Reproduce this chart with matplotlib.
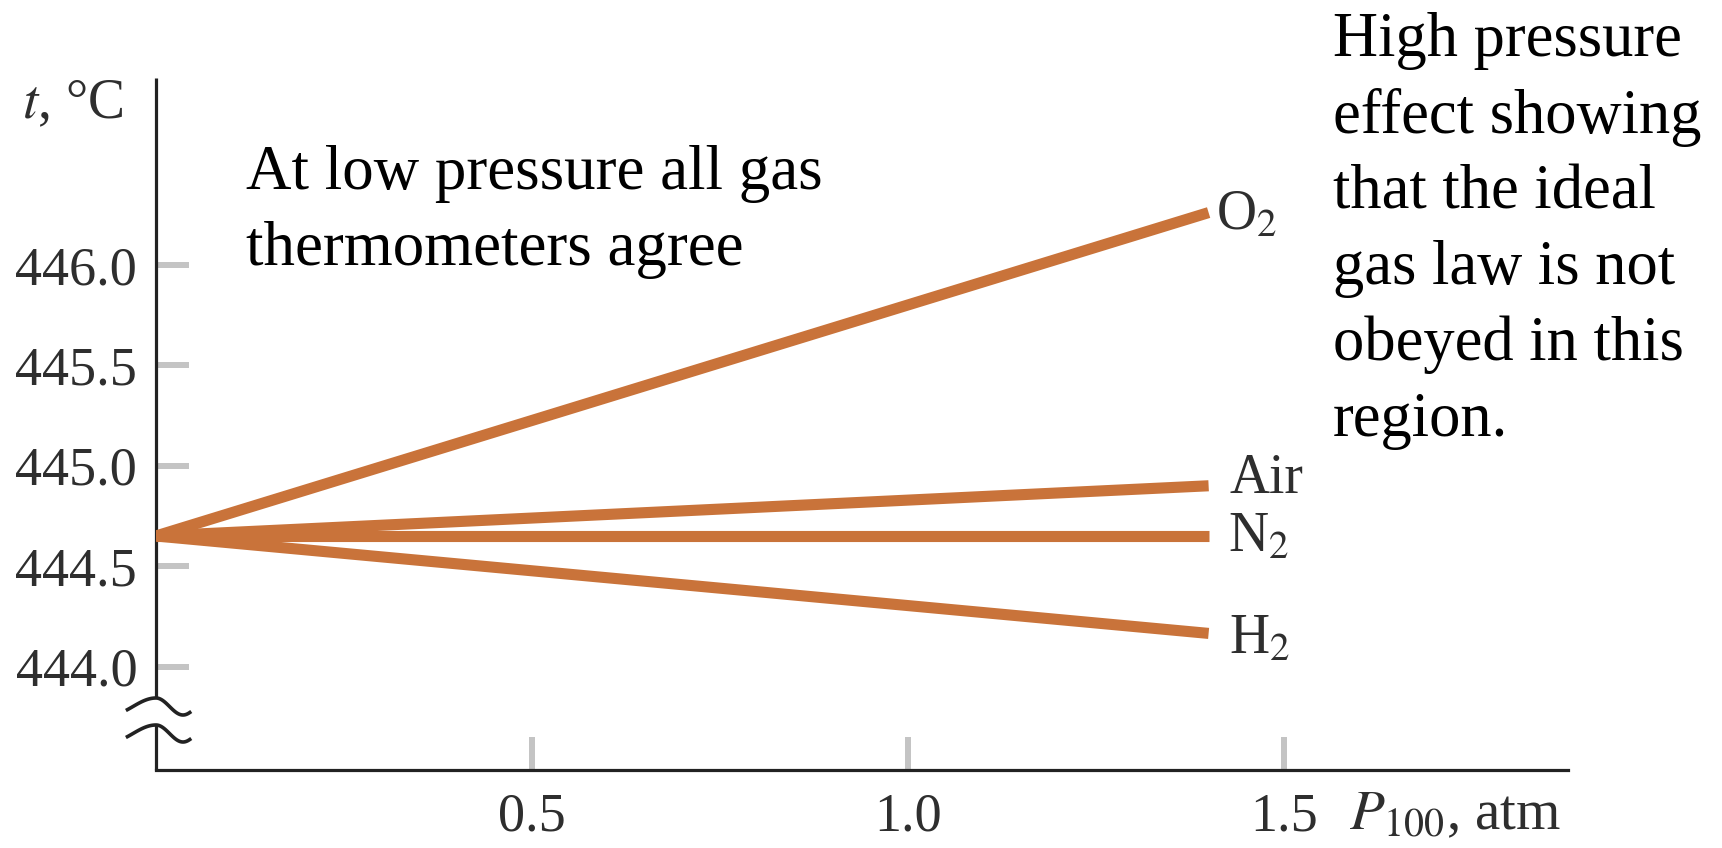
import numpy as np
import matplotlib.pyplot as plt

# Gas thermometer readings t (°C) vs. pressure P_100 of the gas
gases = ["O$_2$", "Air", "N$_2$", "H$_2$"]
p_values = [0.0, 1.4]
t_start = 444.65
t_end = [446.26, 444.90, 444.65, 444.165]

x_ticks = [0.5, 1.0, 1.5]
y_ticks = [444.0, 444.5, 445.0, 445.5, 446.0]

# label offsets (points) from each line end
label_offsets = [(5, -12), (15, -5), (14, -11.5), (15, -14.5)]

LINE_COLOR = "#c9733a"
TICK_COLOR = "#c4c4c4"
TEXT_GREY = "#2e2e2e"
AXIS_COLOR = "#222222"
SERIF = "Liberation Serif"

plt.rcParams["mathtext.fontset"] = "stix"
plt.rcParams["font.family"] = SERIF

fig = plt.figure(figsize=(17.22, 8.48), dpi=100)
ax_w_px, ax_h_px = 1412, 692
ax = fig.add_axes([156 / 1722, 1 - 770 / 848, ax_w_px / 1722, ax_h_px / 848])

for name, end, off in zip(gases, t_end, label_offsets):
    ax.plot(p_values, [t_start, end], color=LINE_COLOR, lw=8.0,
            solid_capstyle="butt", zorder=3)
    ax.annotate(name, (p_values[-1], end), xytext=off,
                textcoords="offset points", va="baseline", ha="left",
                fontsize=40, color=TEXT_GREY)

ax.set_xlim(0, 1.878)
ax.set_ylim(443.485, 446.93)
ax.set_xticks(x_ticks)
ax.set_xticklabels([f"{v:.1f}" for v in x_ticks])
ax.set_yticks(y_ticks)
ax.set_yticklabels([f"{v:.1f}" for v in y_ticks])

for s in ["top", "right", "left"]:
    ax.spines[s].set_visible(False)
ax.spines["bottom"].set_linewidth(2.3)
ax.spines["bottom"].set_color(AXIS_COLOR)

ax.tick_params(direction="in", length=24, width=4.3, color=TICK_COLOR,
               labelsize=39, labelcolor=TEXT_GREY)
ax.tick_params(axis="y", pad=13.5)
ax.tick_params(axis="x", pad=16)

# broken left axis with wavy break marks
lower_mid, upper_mid, amp = 36.5 / ax_h_px, 63.5 / ax_h_px, 8.5 / ax_h_px
ax.plot([0, 0], [0, lower_mid + amp], transform=ax.transAxes,
        color=AXIS_COLOR, lw=2.3, clip_on=False, solid_capstyle="butt")
ax.plot([0, 0], [upper_mid + amp, 1], transform=ax.transAxes,
        color=AXIS_COLOR, lw=2.3, clip_on=False, solid_capstyle="butt")
tt = np.linspace(-0.62, 1.25, 80)
xs = np.where(tt < 0, 46 * tt, 27 * tt) / ax_w_px
for mid in [lower_mid, upper_mid]:
    ax.plot(xs, mid + amp * np.cos(np.pi * tt),
            transform=ax.transAxes, color=AXIS_COLOR, lw=2.6, clip_on=False)

# axis titles
fig.text(22 / 1722, 1 - 118 / 848, "$t$, °C", fontsize=40, color=TEXT_GREY,
         ha="left", va="baseline")
fig.text(1349 / 1722, 1 - 829 / 848, "$P_{100}$, atm", fontsize=41,
         color=TEXT_GREY, ha="left", va="baseline")

fig.text(246 / 1722, 1 - 145 / 848,
         "At low pressure all gas\nthermometers agree",
         fontsize=45.3, ha="left", va="top", linespacing=1.40, color="black")
fig.text(1333 / 1722, 1 - 12 / 848,
         "High pressure\neffect showing\nthat the ideal\ngas law is not\nobeyed in this\nregion.",
         fontsize=45, ha="left", va="top", linespacing=1.40, color="black")

fig.savefig("out.png", dpi=100)
